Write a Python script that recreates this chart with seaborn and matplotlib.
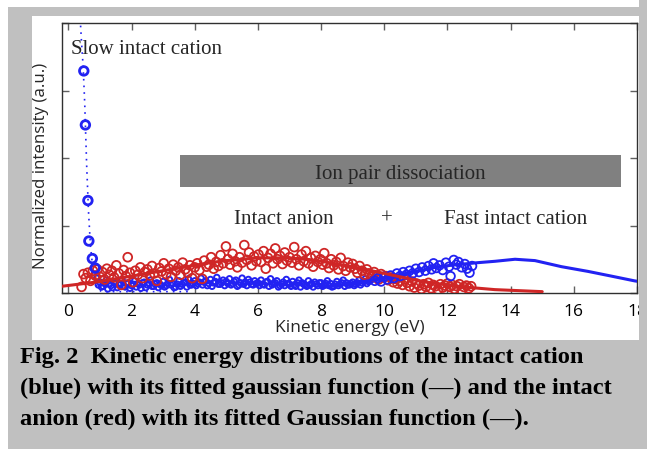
import numpy as np
import pandas as pd
import matplotlib
matplotlib.use("Agg")
import matplotlib.pyplot as plt
from matplotlib.patches import Rectangle
import seaborn as sns

# ---------------- data ----------------
slow_x = [0.49, 0.54, 0.62, 0.65, 0.76, 0.85]
slow_y = [3.29, 2.49, 1.37, 0.77, 0.51, 0.37]

slow_fit_x = [0.30, 0.36, 0.42, 0.47, 0.52, 0.58, 0.64, 0.70, 0.78, 0.86, 0.95, 1.05, 2.0, 3.0, 3.9]
slow_fit_y = [5.0, 4.2, 3.7, 3.35, 2.8, 1.9, 1.2, 0.7, 0.35, 0.15, 0.06, 0.02, 0.02, 0.02, 0.02]

band_x = [0.9,
          1.0, 1.1, 1.2, 1.3, 1.4, 1.5, 1.6, 1.7, 1.8, 1.9,
          2.0, 2.1, 2.2, 2.3, 2.4, 2.5, 2.6, 2.7, 2.8, 2.9,
          3.0, 3.1, 3.2, 3.3, 3.4, 3.5, 3.6, 3.7, 3.8, 3.9,
          4.0, 4.1, 4.2, 4.3, 4.4, 4.5, 4.6, 4.7, 4.8, 4.9,
          5.0, 5.1, 5.2, 5.3, 5.4, 5.5, 5.6, 5.7, 5.8, 5.9,
          6.0, 6.1, 6.2, 6.3, 6.4, 6.5, 6.6, 6.7, 6.8, 6.9,
          7.0, 7.1, 7.2, 7.3, 7.4, 7.5, 7.6, 7.7, 7.8, 7.9,
          8.0, 8.1, 8.2, 8.3, 8.4, 8.5, 8.6, 8.7, 8.8, 8.9,
          9.0, 9.1, 9.2, 9.3, 9.4, 9.5, 9.6]
band_y = [0.22,
          0.16, 0.10, 0.19, 0.13, 0.08, 0.17, 0.12, 0.20, 0.09, 0.15,
          0.11, 0.18, 0.14, 0.07, 0.16, 0.12, 0.19, 0.10, 0.15, 0.13,
          0.17, 0.11, 0.20, 0.14, 0.09, 0.18, 0.13, 0.16, 0.21, 0.12,
          0.18, 0.14, 0.22, 0.16, 0.11, 0.20, 0.15, 0.23, 0.13, 0.19,
          0.17, 0.21, 0.14, 0.19, 0.12, 0.22, 0.16, 0.20, 0.13, 0.18,
          0.15, 0.19, 0.12, 0.17, 0.21, 0.14, 0.18, 0.11, 0.16, 0.20,
          0.13, 0.17, 0.10, 0.19, 0.15, 0.12, 0.18, 0.14, 0.16, 0.11,
          0.15, 0.12, 0.18, 0.14, 0.10, 0.17, 0.13, 0.19, 0.15, 0.12,
          0.16, 0.13, 0.19, 0.15, 0.21, 0.17, 0.20]

band2_x = [0.95,
           1.05, 1.15, 1.25, 1.35, 1.45, 1.55, 1.65, 1.75, 1.85, 1.95,
           2.05, 2.15, 2.25, 2.35, 2.45, 2.55, 2.65, 2.75, 2.85, 2.95,
           3.05, 3.15, 3.25, 3.35, 3.45, 3.55, 3.65, 3.75, 3.85, 3.95,
           4.05, 4.15, 4.25, 4.35, 4.45, 4.55, 4.65, 4.75, 4.85, 4.95,
           5.05, 5.15, 5.25, 5.35, 5.45, 5.55, 5.65, 5.75, 5.85, 5.95,
           6.05, 6.15, 6.25, 6.35, 6.45, 6.55, 6.65, 6.75, 6.85, 6.95,
           7.05, 7.15, 7.25, 7.35, 7.45, 7.55, 7.65, 7.75, 7.85, 7.95,
           8.05, 8.15, 8.25, 8.35, 8.45, 8.55, 8.65, 8.75, 8.85, 8.95,
           9.05, 9.15, 9.25, 9.35, 9.45, 9.55]
band2_y = [0.12,
           0.09, 0.14, 0.06, 0.11, 0.15, 0.08, 0.13, 0.10, 0.14, 0.07,
           0.13, 0.09, 0.12, 0.15, 0.08, 0.14, 0.10, 0.13, 0.08, 0.11,
           0.09, 0.14, 0.12, 0.08, 0.13, 0.10, 0.15, 0.09, 0.12, 0.14,
           0.11, 0.16, 0.12, 0.18, 0.14, 0.10, 0.17, 0.13, 0.15, 0.11,
           0.14, 0.12, 0.17, 0.10, 0.15, 0.13, 0.11, 0.16, 0.12, 0.14,
           0.11, 0.13, 0.16, 0.10, 0.12, 0.15, 0.09, 0.13, 0.11, 0.14,
           0.10, 0.12, 0.15, 0.09, 0.13, 0.10, 0.12, 0.09, 0.13, 0.15,
           0.10, 0.14, 0.11, 0.09, 0.13, 0.11, 0.15, 0.10, 0.12, 0.14,
           0.11, 0.15, 0.12, 0.17, 0.14, 0.18]

fast_x = [9.70, 9.80, 9.90, 10.00, 10.10, 10.20, 10.30, 10.40, 10.50, 10.60,
          10.70, 10.80, 10.90, 11.00, 11.10, 11.20, 11.30, 11.40, 11.50, 11.56,
          11.65, 11.75, 11.85, 11.95, 12.05, 12.10, 12.20, 12.28, 12.35, 12.45,
          12.55, 12.62, 12.70, 12.78]
fast_y = [0.18, 0.22, 0.17, 0.24, 0.20, 0.26, 0.22, 0.29, 0.25, 0.31,
          0.27, 0.33, 0.29, 0.36, 0.31, 0.38, 0.33, 0.40, 0.35, 0.44,
          0.37, 0.41, 0.34, 0.45, 0.39, 0.25, 0.49, 0.42, 0.46, 0.38,
          0.43, 0.36, 0.30, 0.40]

cation_fit_x = [8.0, 9.0, 9.5, 10.0, 10.67, 11.2, 11.72, 12.3, 12.98, 13.51,
                14.14, 14.77, 15.61, 16.45, 17.19, 17.92, 18.2]
cation_fit_y = [0.08, 0.14, 0.18, 0.22, 0.29, 0.34, 0.39, 0.42, 0.45, 0.47,
                0.50, 0.48, 0.39, 0.32, 0.25, 0.18, 0.16]

anion_x = [0.42, 0.48, 0.55, 0.62, 0.70, 0.78, 0.85, 0.92, 1.00,
           1.08, 1.15, 1.22, 1.30, 1.38, 1.45, 1.52, 1.60, 1.68, 1.75, 1.82, 1.88, 1.95,
           2.05, 2.12, 2.20, 2.28, 2.35, 2.42, 2.50, 2.58, 2.65, 2.72, 2.80, 2.88, 2.95, 3.02,
           3.10, 3.18, 3.25, 3.32, 3.40, 3.48, 3.55, 3.62, 3.70, 3.78, 3.85, 3.92, 4.00,
           4.08, 4.15, 4.24, 4.30, 4.38, 4.45, 4.52, 4.60, 4.68, 4.75, 4.82, 4.90, 4.99,
           5.05, 5.12, 5.20, 5.28, 5.35, 5.42, 5.50, 5.57, 5.65, 5.72, 5.80, 5.88, 5.95, 6.02,
           6.10, 6.18, 6.25, 6.32, 6.40, 6.48, 6.55, 6.62, 6.70, 6.78, 6.85, 6.92, 7.00,
           7.08, 7.15, 7.22, 7.30, 7.38, 7.45, 7.52, 7.60, 7.68, 7.75, 7.82, 7.90, 7.98, 8.05,
           8.10, 8.18, 8.25, 8.32, 8.40, 8.48, 8.55, 8.62, 8.70, 8.78, 8.85, 8.92, 9.00,
           9.08, 9.15, 9.22, 9.30, 9.38, 9.45, 9.52, 9.60, 9.68, 9.75, 9.82, 9.90, 9.98,
           10.05, 10.12, 10.20, 10.28, 10.35, 10.42, 10.50, 10.58, 10.65, 10.72, 10.80, 10.88, 10.95, 11.02,
           11.10, 11.18, 11.25, 11.32, 11.40, 11.48, 11.55, 11.62, 11.70, 11.78, 11.85, 11.92, 12.00,
           12.08, 12.15, 12.22, 12.30, 12.38, 12.45, 12.52, 12.60, 12.68, 12.75]
anion_y = [0.09, 0.28, 0.22, 0.30, 0.18, 0.33, 0.26, 0.35, 0.24,
           0.31, 0.20, 0.36, 0.27, 0.33, 0.23, 0.41, 0.29, 0.12, 0.34, 0.25, 0.53, 0.30,
           0.16, 0.33, 0.27, 0.38, 0.22, 0.31, 0.35, 0.26, 0.40, 0.29, 0.18, 0.37, 0.32, 0.44,
           0.28, 0.36, 0.24, 0.42, 0.33, 0.38, 0.27, 0.45, 0.35, 0.30, 0.41, 0.22, 0.38,
           0.44, 0.34, 0.21, 0.48, 0.39, 0.42, 0.53, 0.36, 0.46, 0.40, 0.56, 0.44, 0.69,
           0.50, 0.42, 0.58, 0.47, 0.38, 0.53, 0.45, 0.71, 0.49, 0.60, 0.41, 0.54, 0.47, 0.57,
           0.46, 0.62, 0.36, 0.52, 0.58, 0.44, 0.66, 0.50, 0.55, 0.43, 0.60, 0.48, 0.53,
           0.45, 0.68, 0.50, 0.41, 0.57, 0.47, 0.62, 0.44, 0.52, 0.39, 0.55, 0.46, 0.50, 0.42,
           0.59, 0.44, 0.37, 0.50, 0.41, 0.46, 0.35, 0.52, 0.40, 0.33, 0.45, 0.38, 0.43,
           0.36, 0.30, 0.40, 0.33, 0.27, 0.35, 0.29, 0.24, 0.31, 0.26, 0.20, 0.28, 0.23,
           0.25, 0.19, 0.23, 0.16, 0.21, 0.14, 0.18, 0.12, 0.20, 0.15, 0.10, 0.17, 0.08, 0.14,
           0.11, 0.06, 0.13, 0.09, 0.15, 0.07, 0.12, 0.10, 0.05, 0.13, 0.08, 0.11, 0.14,
           0.09, 0.12, 0.06, 0.10, 0.13, 0.04, 0.09, 0.11, 0.07, 0.10]

anion_fit_x = [-0.2, 0.5, 1.0, 1.5, 2.0, 2.5, 3.0, 3.5, 4.0, 4.5, 5.0, 5.5, 6.0, 6.5, 7.0,
               7.5, 8.0, 8.5, 9.0, 9.5, 10.0, 10.5, 11.0, 11.5, 12.0, 12.5, 13.0, 13.5,
               14.0, 14.5, 15.0]
anion_fit_y = [0.10, 0.14, 0.17, 0.21, 0.25, 0.29, 0.33, 0.37, 0.41, 0.45, 0.48, 0.50, 0.52,
               0.52, 0.52, 0.50, 0.47, 0.43, 0.39, 0.34, 0.29, 0.24, 0.19, 0.15, 0.12, 0.09,
               0.07, 0.05, 0.04, 0.03, 0.02]

x_ticks = [0, 2, 4, 6, 8, 10, 12, 14, 16, 18]
y_ticks = [0, 1, 2, 3, 4]

caption = ["Fig. 2  Kinetic energy distributions of the intact cation",
           "(blue) with its fitted gaussian function (\u2014) and the intact",
           "anion (red) with its fitted Gaussian function (\u2014)."]

# ---------------- figure ----------------
sns.set_theme(style="white")
plt.rcParams["font.family"] = ["Open Sans", "DejaVu Sans"]

W, H = 647, 449
fig = plt.figure(figsize=(W / 100, H / 100), dpi=100)
fig.patch.set_facecolor("white")

GRAY = "#c0c0c0"
fig.patches.append(Rectangle((8 / W, 0), 1 - 8 / W, (H - 7) / H, transform=fig.transFigure,
                             facecolor=GRAY, edgecolor="none", zorder=-10))
fig.patches.append(Rectangle((32 / W, 1 - 340 / H), (639 - 32) / W, (340 - 16) / H,
                             transform=fig.transFigure, facecolor="white",
                             edgecolor="none", zorder=-9))

ax = fig.add_axes([62 / W, 1 - 293 / H, (637 - 62) / W, (293 - 23) / H])
ax.set_facecolor("white")

BLUE = "#2222f2"
RED = "#cf2626"

df_anion_fit = pd.DataFrame({"x": anion_fit_x, "y": anion_fit_y})
df_cat_fit = pd.DataFrame({"x": cation_fit_x, "y": cation_fit_y})
df_slow_fit = pd.DataFrame({"x": slow_fit_x, "y": slow_fit_y})

sns.scatterplot(x=band_x, y=band_y, ax=ax, marker="o", s=16, facecolors="none",
                edgecolor=BLUE, linewidth=1.4, zorder=3)
sns.scatterplot(x=band2_x, y=band2_y, ax=ax, marker="o", s=16, facecolors="none",
                edgecolor=BLUE, linewidth=1.4, zorder=3)
sns.scatterplot(x=anion_x, y=anion_y, ax=ax, marker="o", s=40, facecolors="none",
                edgecolor=RED, linewidth=1.3, zorder=4)
sns.scatterplot(x=fast_x, y=fast_y, ax=ax, marker="o", s=38, facecolors="none",
                edgecolor=BLUE, linewidth=1.3, zorder=5)
sns.scatterplot(x=slow_x, y=slow_y, ax=ax, marker="o", s=38, facecolors="none",
                edgecolor=BLUE, linewidth=2.0, zorder=5)
sns.lineplot(data=df_slow_fit, x="x", y="y", ax=ax, color=BLUE, lw=1.2,
             linestyle=(0, (1, 3)), sort=False, estimator=None, zorder=3)
sns.lineplot(data=df_cat_fit, x="x", y="y", ax=ax, color=BLUE, lw=2.2,
             sort=False, estimator=None, zorder=6)
sns.lineplot(data=df_anion_fit, x="x", y="y", ax=ax, color=RED, lw=2.2,
             sort=False, estimator=None, zorder=6)

ax.set_xlim(-0.2, 18)
ax.set_ylim(0, 4)
ax.set_xticks(x_ticks)
ax.set_yticks(y_ticks)
ax.set_yticklabels([])
ax.tick_params(axis="both", direction="in", length=5, width=1, color="#606060",
               top=True, right=True, bottom=True, left=True, labelsize=12.5, pad=8,
               labelcolor="black")
for sp in ax.spines.values():
    sp.set_color("#303030")
    sp.set_linewidth(1.0)

ax.set_xlabel("Kinetic energy (eV)", fontsize=12.5, labelpad=0)
ax.set_ylabel("Normalized intensity (a.u.)", fontsize=12.2, labelpad=1)
ax.yaxis.label.set_y(0.47)

# annotations
ax.add_patch(Rectangle((3.52, 1.57), 17.49 - 3.52, 2.04 - 1.57, facecolor="#808080",
                       edgecolor="none", zorder=2))
serif = ["Liberation Serif", "DejaVu Serif"]
ax.text(10.5, 1.76, "Ion pair dissociation", family=serif, fontsize=15,
        ha="center", va="center", zorder=7)
ax.text(0.1, 3.61, "Slow intact cation", family=serif, fontsize=15,
        ha="left", va="center", zorder=7)
ax.text(5.26, 1.09, "Intact anion", family=serif, fontsize=15, ha="left", va="center")
ax.text(10.07, 1.09, "+", family=serif, fontsize=15, ha="center", va="center")
ax.text(11.9, 1.09, "Fast intact cation", family=serif, fontsize=15, ha="left", va="center")

# right gray strip clipping the last tick label
fig.patches.append(Rectangle((639 / W, 0), 1 - 639 / W, 1, transform=fig.transFigure,
                             facecolor=GRAY, edgecolor="none", zorder=10))

for i, line in enumerate(caption):
    fig.text(20 / W, 1 - (358 + 30.5 * i) / H, line, family=serif, fontweight="bold",
             fontsize=17.6, ha="left", va="center", color="black")

fig.savefig("out.png", dpi=100, facecolor=fig.get_facecolor())
